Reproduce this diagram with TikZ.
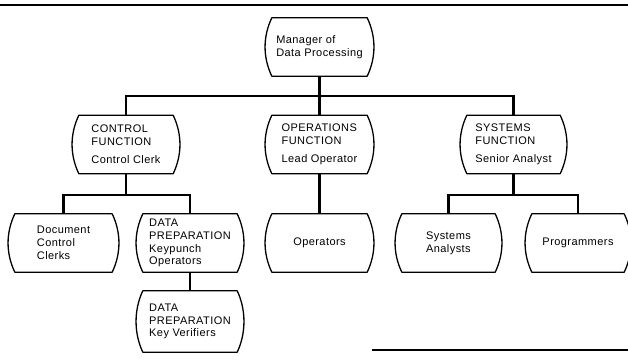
\documentclass[tikz,border=0pt]{standalone}
\usepackage{fontspec}
\setmainfont[LetterSpace=4]{Liberation Sans}
\begin{document}
\begin{tikzpicture}[x=1pt,y=-1pt,
  ob/.style={minimum width=#1, minimum height=58pt, inner sep=0pt, align=left,
    font=\fontsize{11}{12.8}\selectfont},
  ob/.default=94pt,
  boxline/.style={line width=1.3pt, line join=round},
  conn/.style={line width=2.3pt},
  rule/.style={line width=2pt}]
\useasboundingbox (0,0) rectangle (628,363);
\newcommand\pbox[1]{\draw[boxline] (#1.north west) -- (#1.north east)
  .. controls ([shift={(9pt,-19pt)}]#1.north east) and ([shift={(9pt,19pt)}]#1.south east) .. (#1.south east)
  -- (#1.south west)
  .. controls ([shift={(-9pt,19pt)}]#1.south west) and ([shift={(-9pt,-19pt)}]#1.north west) .. cycle;}
% rules
\coordinate (r1) at (0,5.5);
\coordinate (r2) at (628,5.5);
\draw[rule] (r1) -- (r2);
\coordinate (r3) at (372,350);
\coordinate (r4) at (628,350);
\draw[rule] (r3) -- (r4);
% nodes
\node[ob=95pt] (mgr) at (319.5,47) {Manager of\\Data Processing};
\node[ob] (ctl) at (126,144.5) {CONTROL\\FUNCTION\\[5pt]Control Clerk};
\node[ob=95pt] (ops) at (319.5,144.5) {OPERATIONS\\FUNCTION\\[5pt]Lead Operator};
\node[ob=93pt] (sys) at (513.5,144.5) {SYSTEMS\\FUNCTION\\[5pt]Senior Analyst};
\node[ob=97pt] (doc) at (63.5,243) {Document\\Control\\Clerks};
\node[ob] (kp) at (190,243) {DATA\\PREPARATION\\Keypunch\\Operators};
\node[ob, minimum height=61pt] (kv) at (190,321.5) {DATA\\PREPARATION\\Key Verifiers};
\node[ob=95pt] (opr) at (319.5,243) {Operators};
\node[ob=93pt] (sa) at (448.5,243) {Systems\\Analysts};
\node[ob=92pt] (prg) at (578,243) {Programmers};
\foreach \n in {mgr,ctl,ops,sys,doc,kp,kv,opr,sa,prg} {\pbox{\n}}
% connectors
\coordinate (b1) at (319.5,96);
\coordinate (b2) at (126,195);
\coordinate (b3) at (513.5,195);
\draw[conn] (mgr.south) -- (ops.north);
\draw[conn] (ctl.north) |- (b1) -| (sys.north);
\draw[conn] (ops.south) -- (opr.north);
\draw[conn] (ctl.south) -- (b2);
\draw[conn] (doc.north) |- (b2) -| (kp.north);
\draw[conn] (kp.south) -- (kv.north);
\draw[conn] (sys.south) -- (b3);
\draw[conn] (sa.north) |- (b3) -| (prg.north);
\end{tikzpicture}
\end{document}
